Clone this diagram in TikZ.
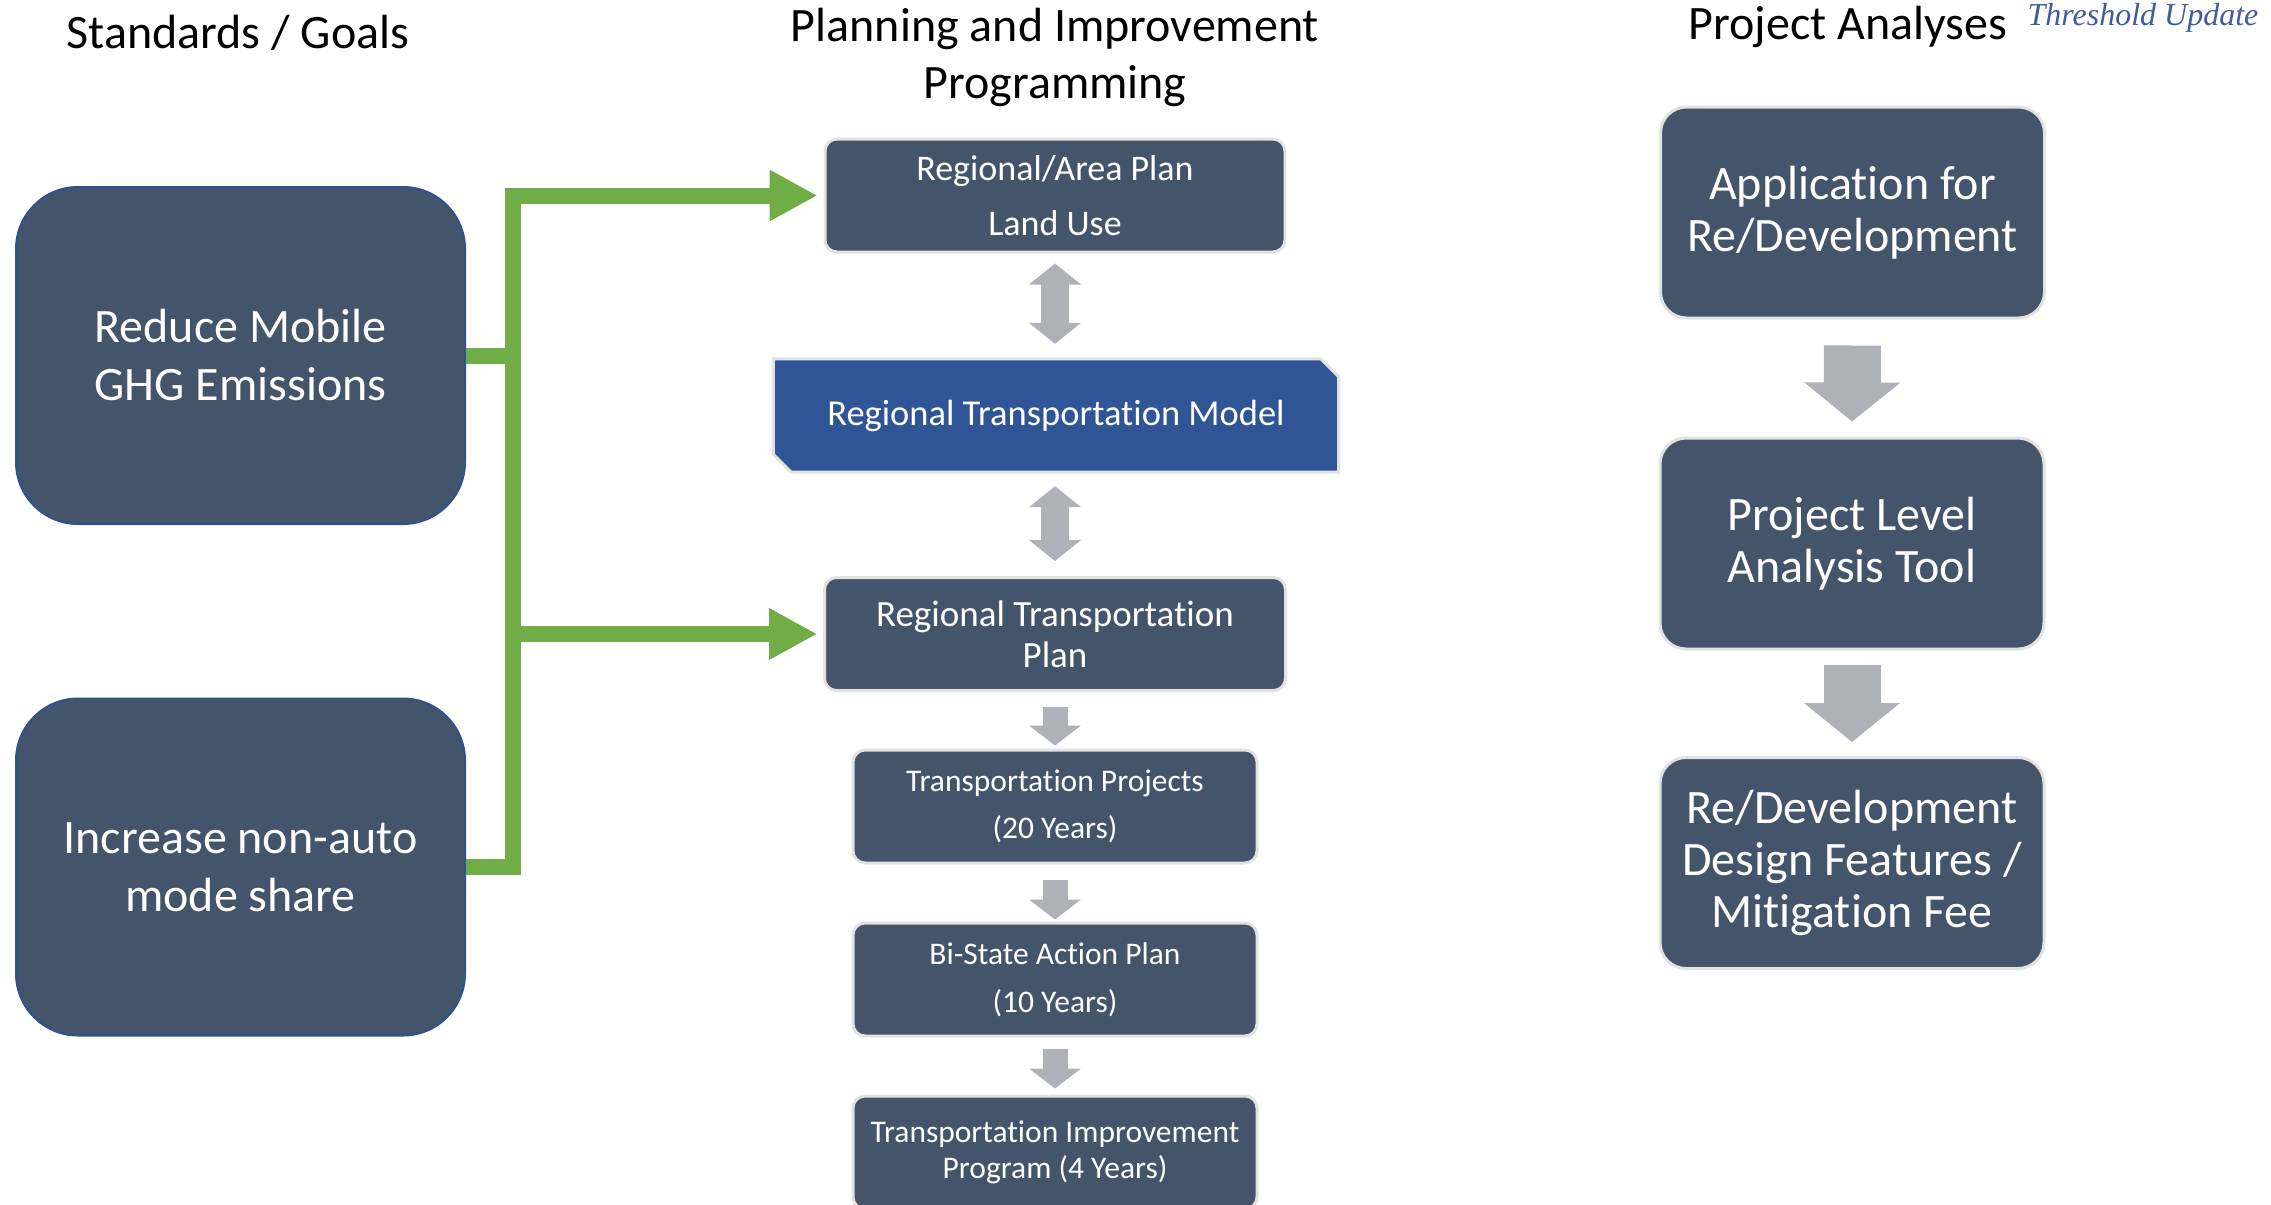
\documentclass[tikz,border=0pt]{standalone}
\usepackage{fontspec}
\setmainfont{Carlito}[Ligatures={NoCommon,NoContextual},Contextuals=NoAlternate]
\newfontfamily\serifit{Liberation Serif}
\usetikzlibrary{arrows.meta,backgrounds}
\definecolor{boxfill}{HTML}{44546A}
\definecolor{rtmblue}{HTML}{2F5597}
\definecolor{goalborder}{HTML}{2F528F}
\definecolor{boxedge}{HTML}{E2E2E2}
\definecolor{gline}{HTML}{70AD47}
\definecolor{agray}{HTML}{AEB1B8}
\definecolor{thrblue}{HTML}{3E5C9E}
\begin{document}
\begin{tikzpicture}[x=1pt,y=-1pt,
  title/.style={anchor=base, inner sep=0pt, font=\fontsize{48}{57}\selectfont},
  goal/.style={fill=boxfill, draw=goalborder, line width=2pt, text=white, align=center,
    inner sep=0pt, rounded corners=62pt, minimum width=449pt, minimum height=337pt,
    font=\fontsize{48}{58}\selectfont},
  midbox/.style={fill=boxfill, draw=boxedge, line width=3pt, text=white, align=center,
    inner sep=0pt, rounded corners=12pt, minimum height=113pt},
  rightbox/.style={fill=boxfill, draw=boxedge, line width=3pt, text=white, align=center,
    inner sep=0pt, rounded corners=26pt, minimum width=384pt, minimum height=211pt,
    font=\fontsize{48}{52}\selectfont},
  greenconn/.style={draw=gline, line width=16pt, line join=miter,
    -{Triangle[length=48pt,width=48pt]}, shorten >=6pt},
  dblarrow/.style={draw=agray, line width=28pt,
    {Triangle[length=21pt,width=51pt]}-{Triangle[length=21pt,width=51pt]}},
  smallarrow/.style={draw=agray, line width=25pt, -{Triangle[length=20pt,width=51pt]}},
  bigarrow/.style={draw=agray, line width=57pt, -{Triangle[length=39pt,width=94pt]}}
]
\useasboundingbox (0,0) rectangle (2271,1205);
\clip (0,0) rectangle (2271,1205);

% titles
\node[title] (t1) at (238,48) {Standards / Goals};
\node[inner sep=0pt, align=center, font=\fontsize{48}{57}\selectfont] (t2) at (1055,57)
  {Planning and Improvement\\Programming};
\node[title] (t3) at (1848,39) {Project Analyses};
\node[anchor=base, inner sep=0pt, text=thrblue, font=\serifit\itshape\fontsize{32}{38}\selectfont]
  (thr) at (2143,25) {Threshold Update};

% left goals
\node[goal] (g1) at (240.5,355.5) {Reduce Mobile\\GHG Emissions};
\node[goal] (g2) at (240.5,867) {Increase non-auto\\mode share};

% middle column
\node[midbox, minimum width=460pt, font=\fontsize{36}{55}\selectfont] (rap) at (1055,195.5)
  {Regional/Area Plan\\Land Use};
\node[inner sep=0pt, minimum width=565pt, minimum height=113pt, text=white,
  font=\fontsize{36.5}{44}\selectfont] (rtm) at (1056,415.5) {Regional Transportation Model};
\begin{scope}[on background layer]
\path[fill=rtmblue, draw=boxedge, line width=3pt, line join=miter]
  (rtm.north west) -- ([xshift=-18pt]rtm.north east) -- ([yshift=-18pt]rtm.north east)
  -- (rtm.south east) -- ([xshift=18pt]rtm.south west) -- ([yshift=18pt]rtm.south west) -- cycle;
\end{scope}
\node[midbox, minimum width=461pt, font=\fontsize{37}{41}\selectfont] (rtp) at (1055,634)
  {Regional Transportation\\Plan};
\node[midbox, minimum width=404pt, font=\fontsize{31.5}{47.5}\selectfont] (tp) at (1055,806.5)
  {Transportation Projects\\(20 Years)};
\node[midbox, minimum width=404pt, font=\fontsize{31.5}{47.5}\selectfont] (bs) at (1055,979.5)
  {Bi-State Action Plan\\(10 Years)};
\node[midbox, minimum width=404pt, font=\fontsize{31.5}{36}\selectfont] (tip) at (1055,1152.5)
  {Transportation Improvement\\Program (4 Years)};

% right column
\node[rightbox] (app) at (1852.5,212.5) {Application for\\Re/Development};
\node[rightbox] (pla) at (1852,543.5) {Project Level\\Analysis Tool};
\node[rightbox] (rdf) at (1852,863) {Re/Development\\Design Features /\\Mitigation Fee};

% green connectors
\draw[greenconn] (g1.east) -- ++(47,0) |- (rap.west);
\draw[greenconn] (g1.east) -- ++(47,0) |- (rtp.west);
\draw[greenconn] (g2.east) -- ++(47,0) |- (rtp.west);

% gray arrows, middle
\draw[dblarrow, shorten <=10pt, shorten >=15pt] (rap.south) -- (rtm.north -| rap.south);
\draw[dblarrow, shorten <=14pt, shorten >=15pt] (rtm.south -| rtp.north) -- (rtp.north);
\draw[smallarrow, shorten <=15pt, shorten >=3pt] (rtp.south) -- (tp.north);
\draw[smallarrow, shorten <=15pt, shorten >=2pt] (tp.south) -- (bs.north);
\draw[smallarrow, shorten <=11pt, shorten >=6pt] (bs.south) -- (tip.north);

% gray arrows, right
\draw[bigarrow, shorten <=26pt, shorten >=15pt] (app.south) -- (pla.north);
\draw[bigarrow, shorten <=14pt, shorten >=14pt] (pla.south) -- (rdf.north);
\end{tikzpicture}
\end{document}
